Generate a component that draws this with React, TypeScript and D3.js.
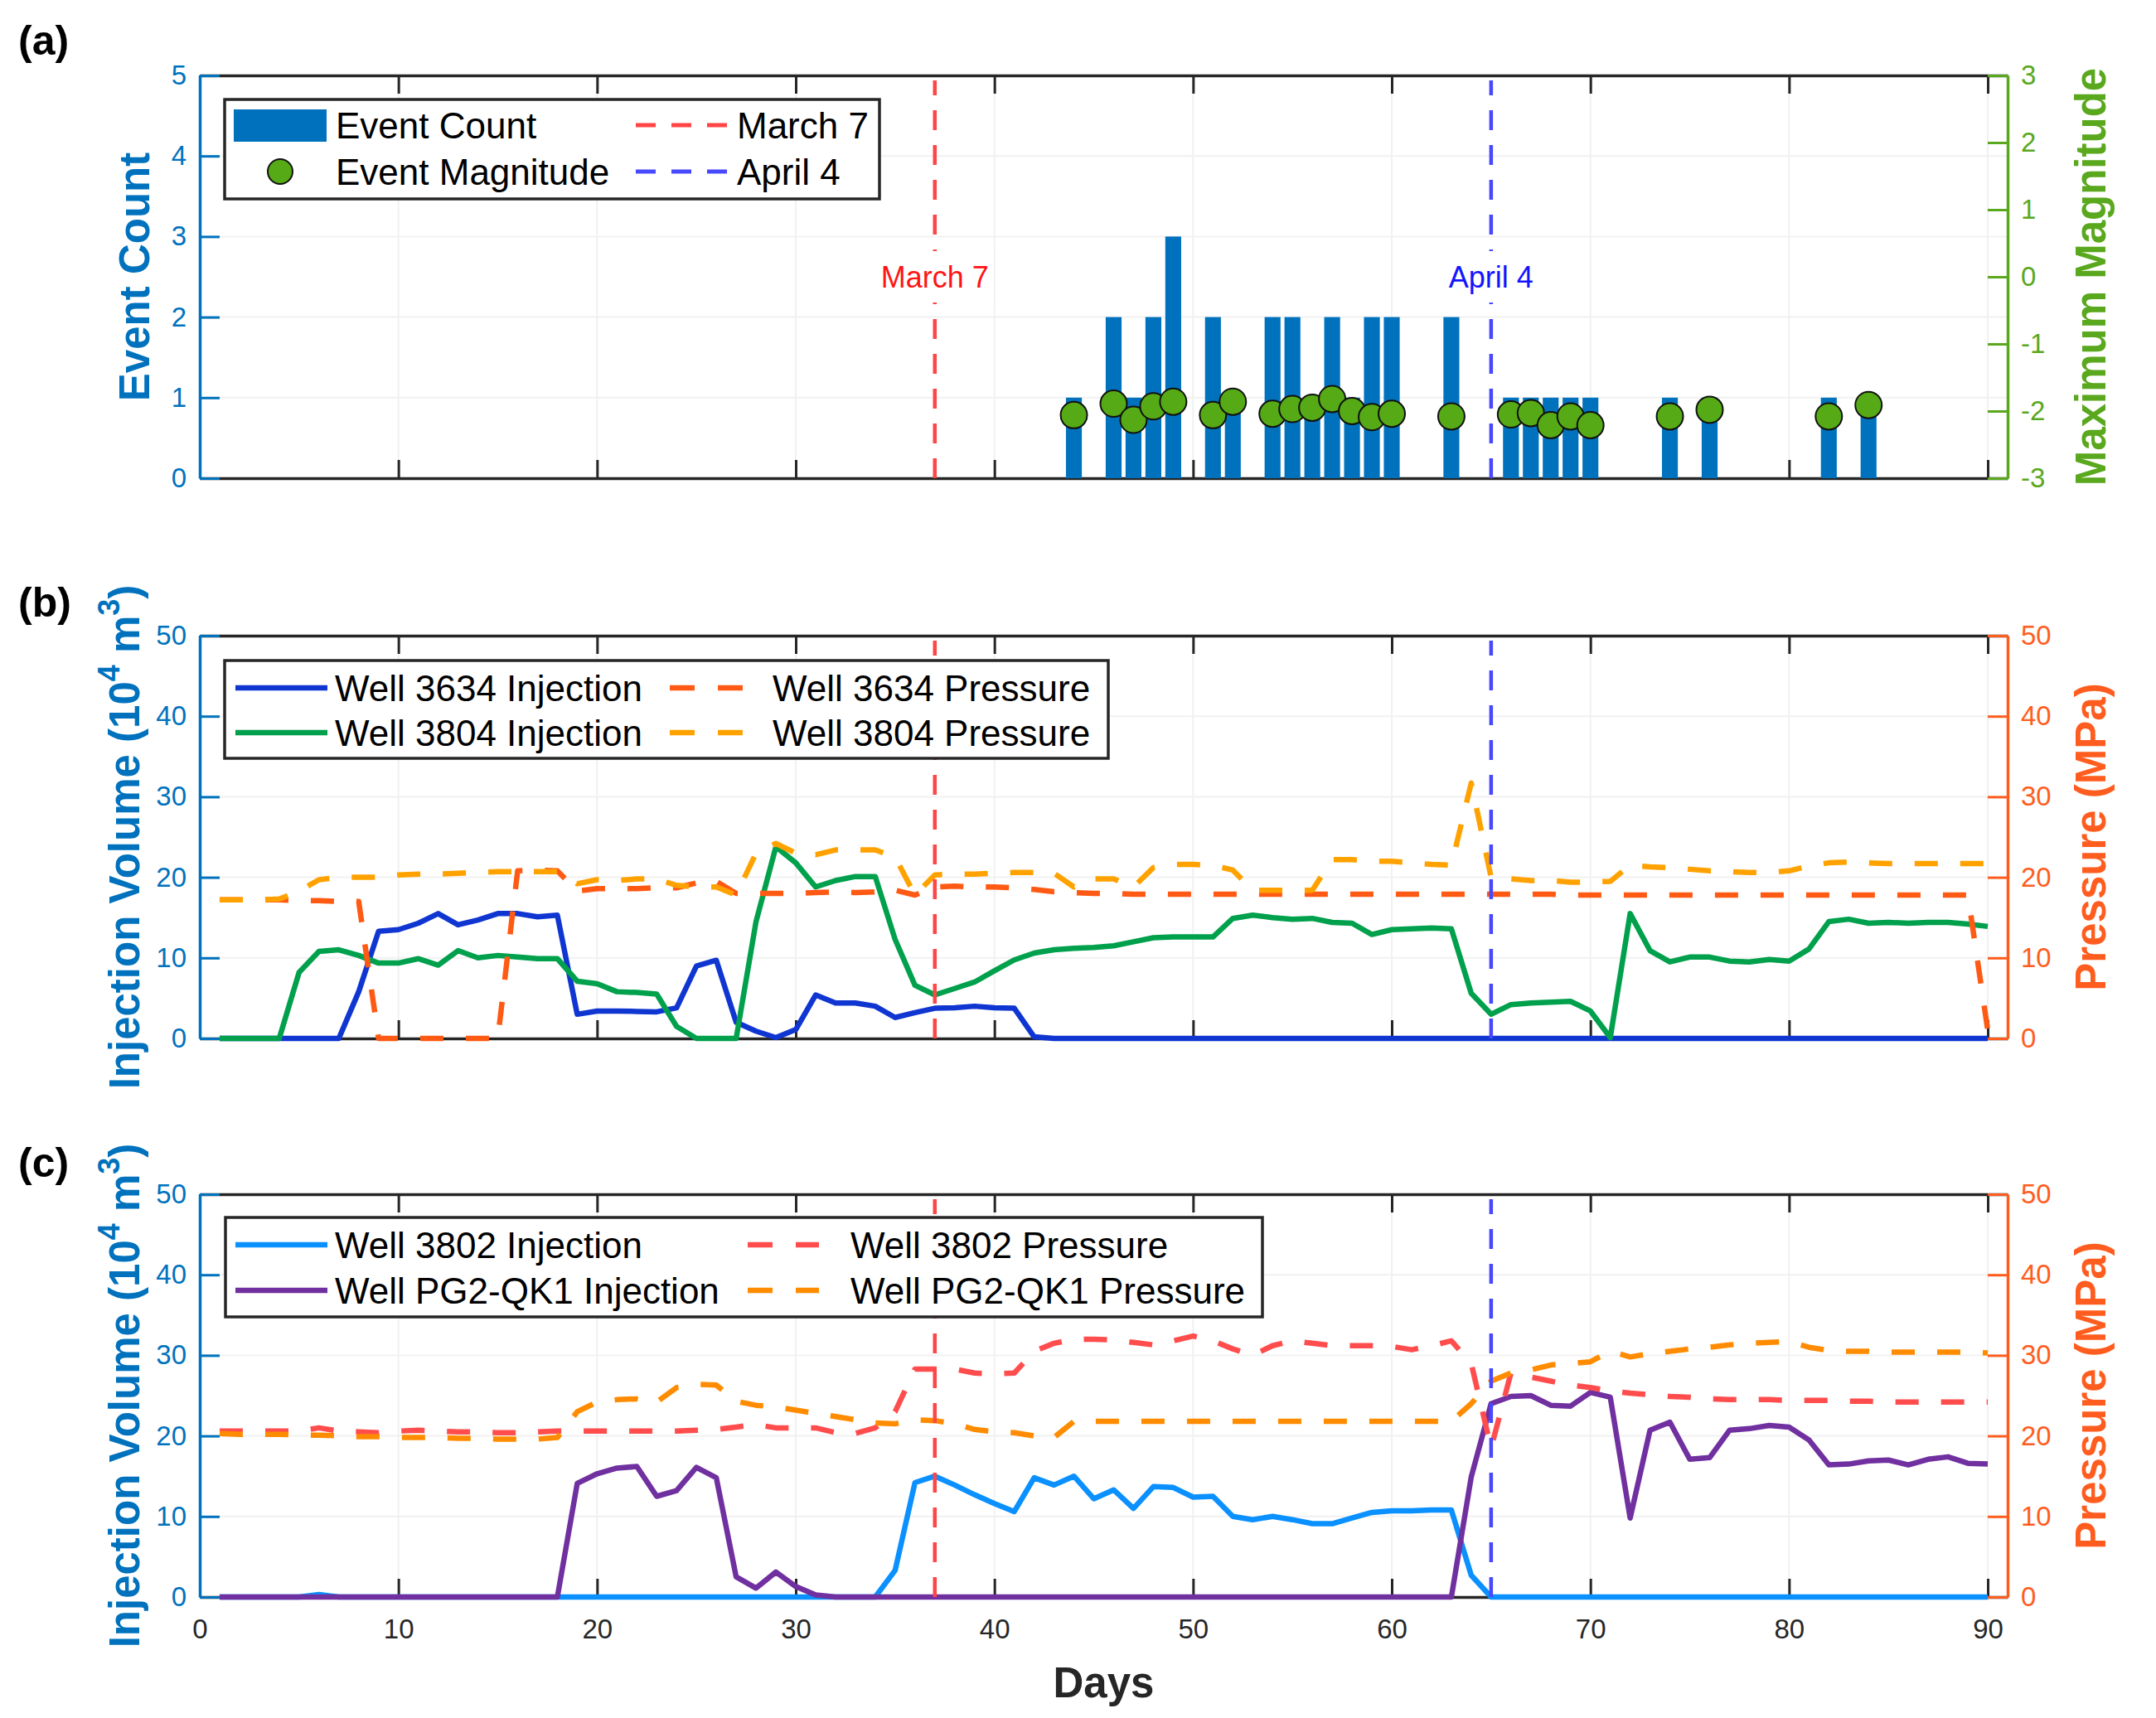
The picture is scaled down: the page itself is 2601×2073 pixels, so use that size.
import React, { useEffect, useRef } from 'react';
import * as d3 from 'd3';

const W = 2601;
const H = 2073;
const FONT = "'Liberation Sans', Arial, Helvetica, sans-serif";
const INK = '#262626';

// ---------- data ----------
const days = d3.range(1, 91);
const xTicks = [0, 10, 20, 30, 40, 50, 60, 70, 80, 90];
const countTicks = [0, 1, 2, 3, 4, 5];
const magnitudeTicks = [-3, -2, -1, 0, 1, 2, 3];
const volumeTicks = [0, 10, 20, 30, 40, 50];
const pressureTicks = [0, 10, 20, 30, 40, 50];

const eventDays = [44, 46, 47, 48, 49, 51, 52, 54, 55, 56, 57, 58, 59, 60, 63, 66, 67, 68, 69, 70, 74, 76, 82, 84];
const eventCounts = [1, 2, 1, 2, 3, 2, 1, 2, 2, 1, 2, 1, 2, 2, 2, 1, 1, 1, 1, 1, 1, 1, 1, 1];
const eventMagnitudes = [
  -2.06, -1.89, -2.13, -1.93, -1.86, -2.06, -1.86, -2.04, -1.97, -1.95, -1.82, -2.0,
  -2.09, -2.04, -2.08, -2.05, -2.03, -2.21, -2.08, -2.21, -2.08, -1.98, -2.08, -1.91,
];

const markerDays = [37, 65];
const markerLabels = ['March 7', 'April 4'];
const markerColors = ['#ff4545', '#4848ff'];
const markerTextColors = ['#ff1414', '#1414ff'];

const well3634Injection = [
  0, 0, 0, 0, 0, 0, 0, 5.8, 13.3, 13.5,
  14.3, 15.5, 14.1, 14.7, 15.5, 15.5, 15.1, 15.3, 3.0, 3.4,
  3.4, 3.35, 3.3, 3.8, 9.0, 9.7, 2.0, 0.9, 0.1, 1.1,
  5.4, 4.4, 4.4, 4.0, 2.6, 3.2, 3.75, 3.8, 4.0, 3.8,
  3.75, 0.2, 0, 0, 0, 0, 0, 0, 0, 0,
  0, 0, 0, 0, 0, 0, 0, 0, 0, 0,
  0, 0, 0, 0, 0, 0, 0, 0, 0, 0,
  0, 0, 0, 0, 0, 0, 0, 0, 0, 0,
  0, 0, 0, 0, 0, 0, 0, 0, 0, 0,
];
const well3804Injection = [
  0, 0, 0, 0, 8.2, 10.8, 11.0, 10.3, 9.35, 9.35,
  9.9, 9.1, 10.9, 10.0, 10.3, 10.1, 9.9, 9.9, 7.1, 6.8,
  5.8, 5.7, 5.5, 1.5, 0, 0, 0, 14.5, 23.8, 21.8,
  18.8, 19.6, 20.1, 20.1, 12.3, 6.6, 5.4, 6.2, 7.0, 8.4,
  9.75, 10.6, 11.0, 11.2, 11.3, 11.5, 12.0, 12.5, 12.6, 12.6,
  12.6, 14.9, 15.3, 15.0, 14.8, 14.9, 14.4, 14.3, 12.9, 13.5,
  13.6, 13.7, 13.6, 5.6, 3.0, 4.2, 4.4, 4.5, 4.6, 3.4,
  0.1, 15.5, 10.9, 9.5, 10.1, 10.1, 9.6, 9.5, 9.8, 9.6,
  11.1, 14.5, 14.8, 14.3, 14.4, 14.3, 14.4, 14.4, 14.2, 13.9,
];
const well3634Pressure = [
  17.2, 17.2, 17.2, 17.2, 17.1, 17.1, 17.0, 17.0, 0, 0,
  0, 0, 0, 0, 0, 20.8, 20.9, 20.8, 18.3, 18.6,
  18.6, 18.6, 18.7, 18.7, 19.3, 19.5, 18.0, 18.0, 18.0, 18.0,
  18.1, 18.2, 18.1, 18.2, 18.4, 17.8, 18.8, 18.9, 18.8, 18.8,
  18.7, 18.5, 18.2, 18.1, 18.0, 18.0, 17.9, 17.9, 17.9, 17.9,
  17.9, 17.9, 17.9, 17.9, 17.9, 17.9, 17.9, 17.9, 17.9, 17.9,
  17.9, 17.9, 17.9, 17.9, 17.9, 17.9, 17.9, 17.9, 17.8, 17.8,
  17.8, 17.8, 17.8, 17.8, 17.8, 17.8, 17.8, 17.8, 17.8, 17.8,
  17.8, 17.8, 17.8, 17.8, 17.8, 17.8, 17.8, 17.8, 17.8, 1.0,
];
const well3804Pressure = [
  17.2, 17.2, 17.2, 17.3, 18.3, 19.7, 20.0, 20.0, 20.0, 20.3,
  20.4, 20.4, 20.5, 20.6, 20.7, 20.7, 20.7, 20.7, 19.2, 19.7,
  19.6, 19.8, 19.8, 19.0, 18.8, 18.8, 17.8, 23.0, 24.2, 23.0,
  22.8, 23.4, 23.4, 23.4, 22.5, 17.8, 20.3, 20.4, 20.4, 20.5,
  20.6, 20.6, 20.5, 18.8, 19.8, 19.8, 18.8, 21.2, 21.6, 21.6,
  21.5, 20.9, 18.4, 18.4, 18.4, 18.4, 22.2, 22.2, 22.0, 22.0,
  21.8, 21.6, 21.5, 31.7, 20.0, 19.8, 19.6, 19.6, 19.4, 19.4,
  19.5, 21.5, 21.3, 21.2, 21.0, 20.8, 20.7, 20.6, 20.6, 20.8,
  21.4, 21.8, 21.9, 21.8, 21.7, 21.7, 21.7, 21.7, 21.7, 21.7,
];
const well3802Injection = [
  0, 0, 0, 0, 0, 0.3, 0, 0, 0, 0,
  0, 0, 0, 0, 0, 0, 0, 0, 0, 0,
  0, 0, 0, 0, 0, 0, 0, 0, 0, 0,
  0, 0, 0, 0, 3.3, 14.2, 15.0, 13.9, 12.7, 11.6,
  10.6, 14.8, 13.9, 15.0, 12.2, 13.3, 11.0, 13.7, 13.6, 12.4,
  12.5, 10.0, 9.6, 10.0, 9.6, 9.1, 9.1, 9.8, 10.5, 10.7,
  10.7, 10.8, 10.8, 2.7, 0, 0, 0, 0, 0, 0,
  0, 0, 0, 0, 0, 0, 0, 0, 0, 0,
  0, 0, 0, 0, 0, 0, 0, 0, 0, 0,
];
const wellPG2Injection = [
  0, 0, 0, 0, 0, 0, 0, 0, 0, 0,
  0, 0, 0, 0, 0, 0, 0, 0, 14.1, 15.3,
  16.0, 16.2, 12.5, 13.2, 16.1, 14.8, 2.5, 1.1, 3.1, 1.3,
  0.25, 0, 0, 0, 0, 0, 0, 0, 0, 0,
  0, 0, 0, 0, 0, 0, 0, 0, 0, 0,
  0, 0, 0, 0, 0, 0, 0, 0, 0, 0,
  0, 0, 0, 14.9, 24.0, 24.9, 25.0, 23.8, 23.7, 25.4,
  24.8, 9.8, 20.7, 21.7, 17.1, 17.3, 20.7, 20.9, 21.3, 21.1,
  19.5, 16.4, 16.5, 16.9, 17.0, 16.4, 17.1, 17.4, 16.6, 16.5,
];
const well3802Pressure = [
  20.6, 20.6, 20.6, 20.6, 20.6, 21.0, 20.6, 20.5, 20.4, 20.6,
  20.7, 20.6, 20.5, 20.5, 20.4, 20.4, 20.5, 20.6, 20.6, 20.6,
  20.6, 20.6, 20.6, 20.6, 20.7, 20.8, 21.1, 21.4, 21.0, 21.0,
  21.0, 20.4, 20.3, 21.0, 23.0, 28.3, 28.3, 28.3, 27.8, 27.7,
  27.8, 30.5, 31.5, 32.0, 32.0, 31.9, 31.6, 31.3, 31.8, 32.4,
  31.8, 30.8, 30.0, 31.2, 31.8, 31.5, 31.2, 31.2, 31.2, 31.1,
  30.7, 31.2, 31.8, 29.0, 18.5, 27.8, 27.3, 26.8, 26.3, 26.0,
  25.6, 25.3, 25.1, 24.9, 24.8, 24.6, 24.5, 24.5, 24.5, 24.4,
  24.4, 24.4, 24.3, 24.3, 24.2, 24.2, 24.2, 24.2, 24.2, 24.2,
];
const wellPG2Pressure = [
  20.3, 20.2, 20.2, 20.2, 20.1, 20.1, 20.0, 19.9, 19.9, 19.8,
  19.8, 19.8, 19.7, 19.7, 19.6, 19.6, 19.6, 19.8, 23.0, 24.2,
  24.5, 24.6, 24.2, 26.0, 26.4, 26.3, 24.3, 23.8, 23.6, 23.2,
  22.8, 22.4, 22.0, 21.6, 21.5, 22.0, 21.9, 21.5, 20.8, 20.5,
  20.4, 20.0, 19.8, 21.8, 21.8, 21.8, 21.8, 21.8, 21.8, 21.8,
  21.8, 21.8, 21.8, 21.8, 21.8, 21.8, 21.8, 21.8, 21.8, 21.8,
  21.8, 21.8, 21.8, 24.0, 26.8, 27.8, 28.2, 28.8, 29.0, 29.2,
  30.5, 29.8, 30.2, 30.5, 30.8, 31.0, 31.3, 31.5, 31.6, 31.7,
  31.0, 30.6, 30.5, 30.5, 30.4, 30.4, 30.4, 30.4, 30.4, 30.3,
];

// ---------- colours ----------
const C_LEFT = '#0072bd';
const C_MAG = '#5aa81e';
const C_PRESS_AXIS = '#ff5d1f';
const LINE_W = 6.5;
const DASH = '28,27';

type G = d3.Selection<SVGGElement, unknown, null, undefined>;
type Lin = d3.ScaleLinear<number, number>;

interface LegendEntry {
  kind: 'bar' | 'dot' | 'solid' | 'dash';
  color: string;
  label: string;
  col: number;
  row: number;
  dash?: string;
  width?: number;
}

const signed = (d: d3.NumberValue) => {
  const v = +d;
  return v < 0 ? `-${-v}` : `${v}`;
};

function drawFrame(
  g: G, x: Lin, yL: Lin, yR: Lin,
  leftTicks: number[], rightTicks: number[],
  leftColor: string, rightColor: string, xLabels: boolean,
) {
  const [y0, y1] = yL.range();
  const [xa, xb] = x.range();

  // light grid
  g.append('g').selectAll('line').data(xTicks.filter(d => d > 0)).join('line')
    .attr('x1', d => x(d)).attr('x2', d => x(d)).attr('y1', y1).attr('y2', y0)
    .attr('stroke', '#f1f1f1').attr('stroke-width', 2);
  g.append('g').selectAll('line').data(leftTicks.slice(1, -1)).join('line')
    .attr('x1', xa).attr('x2', xb).attr('y1', d => yL(d)).attr('y2', d => yL(d))
    .attr('stroke', '#f1f1f1').attr('stroke-width', 2);

  const style = (ax: G, color: string) => {
    ax.attr('color', color).attr('font-family', FONT).attr('font-size', 33);
    ax.select('.domain').attr('stroke-width', 3.5);
    ax.selectAll('.tick line').attr('stroke-width', 3);
  };

  const top = g.append('g').attr('transform', `translate(0,${y1})`);
  top.call(d3.axisTop(x).tickValues(xTicks).tickSize(-22).tickSizeOuter(0).tickFormat(() => ''));
  style(top, INK);

  const bottom = g.append('g').attr('transform', `translate(0,${y0})`);
  bottom.call(
    d3.axisBottom(x).tickValues(xTicks).tickSize(-22).tickSizeOuter(0).tickPadding(27)
      .tickFormat(xLabels ? d3.format('d') : () => ''),
  );
  style(bottom, INK);

  const left = g.append('g').attr('transform', `translate(${xa},0)`);
  left.call(d3.axisLeft(yL).tickValues(leftTicks).tickSize(-24).tickSizeOuter(0).tickPadding(16).tickFormat(signed));
  style(left, leftColor);

  const right = g.append('g').attr('transform', `translate(${xb},0)`);
  right.call(d3.axisRight(yR).tickValues(rightTicks).tickSize(-24).tickSizeOuter(0).tickPadding(16).tickFormat(signed));
  style(right, rightColor);
}

function drawSeries(g: G, x: Lin, y: Lin, values: number[], color: string, dash?: string) {
  const line = d3.line<number>().x((_, i) => x(days[i])).y(d => y(d));
  g.append('path').datum(values)
    .attr('fill', 'none').attr('stroke', color).attr('stroke-width', LINE_W)
    .attr('stroke-linejoin', 'round')
    .attr('stroke-dasharray', dash ?? null)
    .attr('d', line);
}

function drawMarkers(g: G, x: Lin, y: Lin) {
  const [y0, y1] = y.range();
  markerDays.forEach((d, i) => {
    g.append('line')
      .attr('x1', x(d)).attr('x2', x(d)).attr('y1', y0).attr('y2', y1 + 6)
      .attr('stroke', markerColors[i]).attr('stroke-width', 4.5)
      .attr('stroke-dasharray', '24,18');
  });
}

function drawMarkerText(g: G, x: Lin, y: Lin, level: number) {
  markerDays.forEach((d, i) => {
    const holder = g.append('g');
    const bg = holder.append('rect').attr('fill', '#fff');
    const t = holder.append('text')
      .attr('x', x(d)).attr('y', y(level) + 13)
      .attr('text-anchor', 'middle')
      .attr('font-family', FONT).attr('font-size', 36)
      .attr('fill', markerTextColors[i])
      .text(markerLabels[i]);
    const w = (t.node() as SVGTextElement).getComputedTextLength();
    bg.attr('x', x(d) - w / 2 - 6).attr('width', w + 12)
      .attr('y', y(level) - 31).attr('height', 62);
  });
}

function drawLegend(
  g: G,
  box: { x: number; y: number; w: number; h: number },
  rows: number[],
  cols: { x1: number; x2: number; tx: number }[],
  entries: LegendEntry[],
) {
  const lg = g.append('g');
  lg.append('rect')
    .attr('x', box.x).attr('y', box.y).attr('width', box.w).attr('height', box.h)
    .attr('fill', '#fff').attr('stroke', INK).attr('stroke-width', 3.5);
  entries.forEach(e => {
    const cy = rows[e.row];
    const c = cols[e.col];
    if (e.kind === 'bar') {
      lg.append('rect').attr('x', c.x1).attr('y', cy - 19).attr('width', c.x2 - c.x1).attr('height', 39)
        .attr('fill', e.color);
    } else if (e.kind === 'dot') {
      lg.append('circle').attr('cx', (c.x1 + c.x2) / 2).attr('cy', cy).attr('r', 15)
        .attr('fill', e.color).attr('stroke', '#111').attr('stroke-width', 2);
    } else {
      lg.append('line').attr('x1', c.x1).attr('x2', c.x2).attr('y1', cy).attr('y2', cy)
        .attr('stroke', e.color).attr('stroke-width', e.width ?? LINE_W)
        .attr('stroke-dasharray', e.kind === 'dash' ? e.dash ?? '30,28' : null);
    }
    lg.append('text')
      .attr('x', c.tx).attr('y', cy + 16)
      .attr('font-family', FONT).attr('font-size', 44).attr('fill', '#000')
      .text(e.label);
  });
}

function axisLabel(g: G, cx: number, cy: number, text: string, color: string) {
  g.append('text')
    .attr('transform', `translate(${cx},${cy}) rotate(-90)`)
    .attr('text-anchor', 'middle')
    .attr('font-family', FONT).attr('font-size', 51).attr('font-weight', 'bold')
    .attr('fill', color)
    .text(text);
}

function volumeLabel(g: G, cx: number, cy: number) {
  const t = g.append('text')
    .attr('transform', `translate(${cx},${cy}) rotate(-90)`)
    .attr('text-anchor', 'middle')
    .attr('font-family', FONT).attr('font-size', 51).attr('font-weight', 'bold')
    .attr('fill', C_LEFT);
  t.append('tspan').text('Injection Volume (10');
  t.append('tspan').attr('dy', -24).attr('font-size', 36).text('4');
  t.append('tspan').attr('dy', 24).text(' m');
  t.append('tspan').attr('dy', -24).attr('font-size', 36).text('3');
  t.append('tspan').attr('dy', 24).text(')');
}

export default function App() {
  const svgRef = useRef<SVGSVGElement>(null);

  useEffect(() => {
    if (!svgRef.current) return;
    const svg = d3.select(svgRef.current);
    svg.selectAll('*').remove();
    svg.append('rect').attr('width', W).attr('height', H).attr('fill', '#fff');
    const root = svg.append('g') as unknown as G;

    const x = d3.scaleLinear().domain([0, 91]).range([241, 2422]);
    const tops = [91, 767, 1441];
    const ph = 486;

    // ---------- (a) seismicity ----------
    const yCount = d3.scaleLinear().domain([0, 5]).range([tops[0] + ph, tops[0]]);
    const yMag = d3.scaleLinear().domain([-3, 3]).range([tops[0] + ph, tops[0]]);
    const ga = root.append('g');
    drawFrame(ga, x, yCount, yMag, countTicks, magnitudeTicks, C_LEFT, C_MAG, false);
    const bw = x(0.8) - x(0);
    ga.append('g').selectAll('rect').data(eventDays).join('rect')
      .attr('x', d => x(d) - bw / 2).attr('width', bw)
      .attr('y', (_, i) => yCount(eventCounts[i]))
      .attr('height', (_, i) => yCount(0) - yCount(eventCounts[i]))
      .attr('fill', C_LEFT);
    drawMarkers(ga, x, yCount);
    drawMarkerText(ga, x, yCount, 2.5);
    ga.append('g').selectAll('circle').data(eventDays).join('circle')
      .attr('cx', d => x(d)).attr('cy', (_, i) => yMag(eventMagnitudes[i])).attr('r', 16)
      .attr('fill', '#55aa15').attr('stroke', '#111').attr('stroke-width', 2);
    drawLegend(ga, { x: 271, y: 120, w: 790, h: 120 }, [151, 207],
      [{ x1: 282, x2: 394, tx: 405 }, { x1: 767, x2: 877, tx: 889 }],
      [
        { kind: 'bar', color: C_LEFT, label: 'Event Count', col: 0, row: 0 },
        { kind: 'dot', color: '#55aa15', label: 'Event Magnitude', col: 0, row: 1 },
        { kind: 'dash', color: markerColors[0], label: markerLabels[0], col: 1, row: 0, dash: '24,19', width: 5 },
        { kind: 'dash', color: markerColors[1], label: markerLabels[1], col: 1, row: 1, dash: '24,19', width: 5 },
      ]);
    axisLabel(ga, 180, tops[0] + ph / 2, 'Event Count', C_LEFT);
    axisLabel(ga, 2540, tops[0] + ph / 2, 'Maximum Magnitude', C_MAG);

    // ---------- (b) wells 3634 / 3804 ----------
    const yVolB = d3.scaleLinear().domain([0, 50]).range([tops[1] + ph, tops[1]]);
    const yPrB = d3.scaleLinear().domain([0, 50]).range([tops[1] + ph, tops[1]]);
    const gb = root.append('g');
    drawFrame(gb, x, yVolB, yPrB, volumeTicks, pressureTicks, C_LEFT, C_PRESS_AXIS, false);
    drawSeries(gb, x, yVolB, well3634Injection, '#1036d2');
    drawSeries(gb, x, yVolB, well3804Injection, '#00a04c');
    drawSeries(gb, x, yPrB, well3634Pressure, '#ff5a14', DASH);
    drawSeries(gb, x, yPrB, well3804Pressure, '#ffa200', DASH);
    drawMarkers(gb, x, yVolB);
    drawLegend(gb, { x: 271, y: 797, w: 1066, h: 118 }, [830, 884],
      [{ x1: 284, x2: 395, tx: 404 }, { x1: 808, x2: 896, tx: 932 }],
      [
        { kind: 'solid', color: '#1036d2', label: 'Well 3634 Injection', col: 0, row: 0 },
        { kind: 'solid', color: '#00a04c', label: 'Well 3804 Injection', col: 0, row: 1 },
        { kind: 'dash', color: '#ff5a14', label: 'Well 3634 Pressure', col: 1, row: 0 },
        { kind: 'dash', color: '#ffa200', label: 'Well 3804 Pressure', col: 1, row: 1 },
      ]);
    volumeLabel(gb, 168, tops[1] + ph / 2);
    axisLabel(gb, 2540, tops[1] + ph / 2, 'Pressure (MPa)', C_PRESS_AXIS);

    // ---------- (c) wells 3802 / PG2-QK1 ----------
    const yVolC = d3.scaleLinear().domain([0, 50]).range([tops[2] + ph, tops[2]]);
    const yPrC = d3.scaleLinear().domain([0, 50]).range([tops[2] + ph, tops[2]]);
    const gc = root.append('g');
    drawFrame(gc, x, yVolC, yPrC, volumeTicks, pressureTicks, C_LEFT, C_PRESS_AXIS, true);
    drawSeries(gc, x, yVolC, well3802Injection, '#0a90ff');
    drawSeries(gc, x, yVolC, wellPG2Injection, '#7030a0');
    drawSeries(gc, x, yPrC, well3802Pressure, '#ff4d4d', DASH);
    drawSeries(gc, x, yPrC, wellPG2Pressure, '#ff8c00', DASH);
    drawMarkers(gc, x, yVolC);
    drawLegend(gc, { x: 272, y: 1469, w: 1251, h: 120 }, [1502, 1557],
      [{ x1: 284, x2: 395, tx: 404 }, { x1: 902, x2: 988, tx: 1026 }],
      [
        { kind: 'solid', color: '#0a90ff', label: 'Well 3802 Injection', col: 0, row: 0 },
        { kind: 'solid', color: '#7030a0', label: 'Well PG2-QK1 Injection', col: 0, row: 1 },
        { kind: 'dash', color: '#ff4d4d', label: 'Well 3802 Pressure', col: 1, row: 0 },
        { kind: 'dash', color: '#ff8c00', label: 'Well PG2-QK1 Pressure', col: 1, row: 1 },
      ]);
    volumeLabel(gc, 168, tops[2] + ph / 2);
    axisLabel(gc, 2540, tops[2] + ph / 2, 'Pressure (MPa)', C_PRESS_AXIS);

    root.append('text')
      .attr('x', (x(0) + x(91)) / 2).attr('y', 2048)
      .attr('text-anchor', 'middle')
      .attr('font-family', FONT).attr('font-size', 51).attr('font-weight', 'bold')
      .attr('fill', INK)
      .text('Days');

    // panel letters
    [['(a)', 66], ['(b)', 744], ['(c)', 1420]].forEach(([t, y]) => {
      root.append('text')
        .attr('x', 22).attr('y', y as number)
        .attr('font-family', FONT).attr('font-size', 50).attr('font-weight', 'bold')
        .attr('fill', '#000')
        .text(t as string);
    });
  }, []);

  return (
    <svg
      ref={svgRef}
      width={W}
      height={H}
      style={{ position: 'absolute', left: 0, top: 0, display: 'block' }}
    />
  );
}
